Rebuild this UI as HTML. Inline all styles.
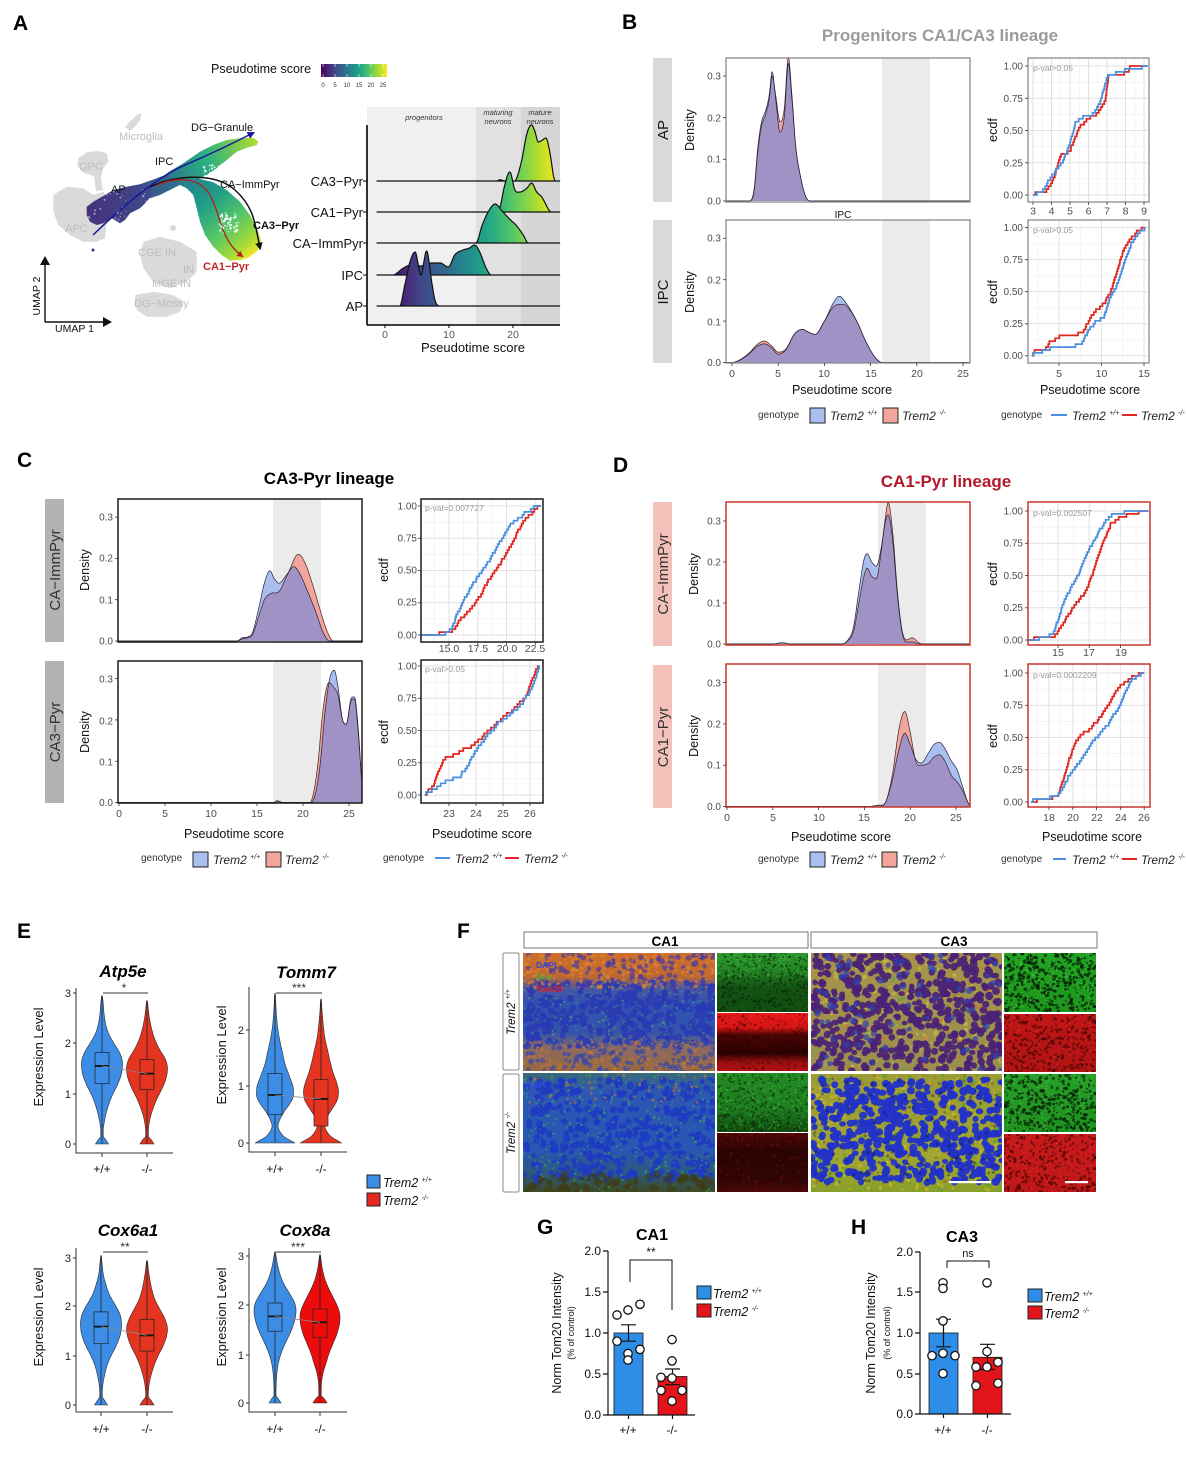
<!DOCTYPE html>
<html><head><meta charset="utf-8"><title>Figure</title>
<style>
html,body{margin:0;padding:0;background:#fff;width:1186px;height:1458px;overflow:hidden}
svg{display:block}
text{font-family:"Liberation Sans",Arial,sans-serif}
</style></head><body>
<svg id="fig" xmlns="http://www.w3.org/2000/svg" width="1186" height="1458" viewBox="0 0 1186 1458">
<defs>
<linearGradient id="virR" gradientUnits="userSpaceOnUse" x1="385" y1="0" x2="558" y2="0">
<stop offset="0" stop-color="#440154"/><stop offset="0.1" stop-color="#482475"/><stop offset="0.2" stop-color="#414487"/><stop offset="0.3" stop-color="#355f8d"/><stop offset="0.4" stop-color="#2a788e"/><stop offset="0.5" stop-color="#21918c"/><stop offset="0.6" stop-color="#22a884"/><stop offset="0.7" stop-color="#44bf70"/><stop offset="0.8" stop-color="#7ad151"/><stop offset="0.9" stop-color="#bddf26"/><stop offset="1" stop-color="#fde725"/>
</linearGradient>
<linearGradient id="virC" x1="0" y1="0" x2="1" y2="0">
<stop offset="0" stop-color="#440154"/><stop offset="0.1" stop-color="#482475"/><stop offset="0.2" stop-color="#414487"/><stop offset="0.3" stop-color="#355f8d"/><stop offset="0.4" stop-color="#2a788e"/><stop offset="0.5" stop-color="#21918c"/><stop offset="0.6" stop-color="#22a884"/><stop offset="0.7" stop-color="#44bf70"/><stop offset="0.8" stop-color="#7ad151"/><stop offset="0.9" stop-color="#bddf26"/><stop offset="1" stop-color="#fde725"/>
</linearGradient>
<linearGradient id="gAP" gradientUnits="userSpaceOnUse" x1="86" y1="0" x2="152" y2="0"><stop offset="0" stop-color="#46307c"/><stop offset="1" stop-color="#3e4b8a"/></linearGradient>
<linearGradient id="gBand" gradientUnits="userSpaceOnUse" x1="140" y1="0" x2="186" y2="0"><stop offset="0" stop-color="#3b528b"/><stop offset="1" stop-color="#2a788e"/></linearGradient>
<linearGradient id="gDG" gradientUnits="userSpaceOnUse" x1="167" y1="178" x2="258" y2="140"><stop offset="0" stop-color="#2a788e"/><stop offset="0.45" stop-color="#2bb07f"/><stop offset="1" stop-color="#b2dd2d"/></linearGradient>
<linearGradient id="gCA" gradientUnits="userSpaceOnUse" x1="185" y1="182" x2="252" y2="258"><stop offset="0" stop-color="#26828e"/><stop offset="0.3" stop-color="#1f9e89"/><stop offset="0.6" stop-color="#54c568"/><stop offset="0.85" stop-color="#a5db36"/><stop offset="1" stop-color="#fde725"/></linearGradient>
<marker id="mB" viewBox="0 0 10 10" refX="7" refY="5" markerWidth="5" markerHeight="5" orient="auto"><path d="M0,0L10,5L0,10z" fill="#1a1a9a"/></marker>
<marker id="mK" viewBox="0 0 10 10" refX="7" refY="5" markerWidth="5" markerHeight="5" orient="auto"><path d="M0,0L10,5L0,10z" fill="#111"/></marker>
<marker id="mR" viewBox="0 0 10 10" refX="7" refY="5" markerWidth="5" markerHeight="5" orient="auto"><path d="M0,0L10,5L0,10z" fill="#b22222"/></marker>
</defs>

<g id="L0">
<rect x="367" y="107" width="109" height="218" fill="#f0f0f0"/>
<rect x="476" y="107" width="45" height="218" fill="#e1e1e1"/>
<rect x="521" y="107" width="39" height="218" fill="#d6d6d6"/>
<path d="M125,126.7 L131.7,120 L136.7,115 L141.7,113.3 L140,120 L135,126.7 L130,131 Z" fill="#dadada"/>
<path d="M78.3,158.3 L86.7,152.3 L98.3,151 L106.7,153.3 L108.3,161.7 L103.3,168.3 L101,178 L103,190 L96,191 L94,176 L90,175 L81.7,171.7 L77.3,165 Z" fill="#dadada"/>
<path d="M53.3,195 L66.7,186.7 L83.3,188.3 L93.3,195 L103.3,191.7 L111.7,205 L106.7,221.7 L105,238.3 L96.7,241.7 L83.3,241.7 L70,235 L58.3,225 L53.3,211.7 Z" fill="#dadada"/>
<path d="M143.3,241.7 L160,236.7 L180,241.7 L196.7,251.7 L196.7,271.7 L186.7,281.7 L170,288.3 L153.3,281.7 L143.3,268.3 L140,255 Z" fill="#dadada"/>
<circle cx="173" cy="228" r="3" fill="#dadada"/>
<path d="M135,295 L153.3,291.7 L173.3,295 L183.3,301.7 L180,311.7 L166.7,316.7 L146.7,316.7 L136.7,310 Z" fill="#dadada"/>
<rect x="653" y="58" width="19" height="144" fill="#d9d9d9"/>
<rect x="653" y="220" width="19" height="143" fill="#d9d9d9"/>
<rect x="882" y="58" width="48" height="144" fill="#ebebeb"/>
<rect x="882" y="220" width="48" height="143" fill="#ebebeb"/>
<rect x="45" y="499" width="19" height="143" fill="#b3b3b3"/>
<rect x="45" y="661" width="19" height="142" fill="#b3b3b3"/>
<rect x="273" y="499" width="48" height="143" fill="#ebebeb"/>
<rect x="273" y="661" width="48" height="142" fill="#ebebeb"/>
<rect x="653" y="502" width="19" height="144" fill="#f4c1ba"/>
<rect x="653" y="665" width="19" height="143" fill="#f4c1ba"/>
<rect x="878" y="502" width="48" height="143" fill="#ebebeb"/>
<rect x="878" y="664" width="48" height="143" fill="#ebebeb"/>
</g>

<g id="L1">
<path d="M140,184.3 L156.7,178.3 L170,173.3 L180,169 L186,176 L183.3,183.3 L173.3,188.3 L160,195 L150,198.3 L146.7,195 Z" fill="url(#gBand)"/>
<path d="M166.7,173.3 L183.3,163.3 L200,151.7 L213.3,145 L226.7,140 L240,138.3 L253.3,137.7 L258.3,141.7 L256.7,145 L246.7,147.7 L236.7,151.7 L226.7,160 L216.7,168.3 L206.7,175 L196.7,180 L183.3,182.3 L173.3,180 Z" fill="url(#gDG)"/>
<path d="M180,180 L196.7,178.3 L213.3,182.3 L226.7,190 L240,201.7 L250,215 L258.3,231.7 L261.7,243.3 L256.7,251.7 L248.3,257.7 L240,260 L230,260.7 L221.7,255 L213.3,246.7 L205,235 L200,221.7 L196.7,208.3 L193.3,195 L186.7,188.3 L180,185 Z" fill="url(#gCA)"/>
<path d="M86.7,206.7 L93.3,201.7 L105,195 L113.3,190 L126.7,186.7 L140,184.3 L151.7,186.7 L151.7,195 L146.7,201.7 L140,208.3 L130,213.3 L125,220 L120,223.3 L111.7,218.3 L103.3,223.3 L96.7,225 L90,221.7 L86.7,215 Z" fill="url(#gAP)"/>
<circle cx="93" cy="250" r="1.5" fill="#46307c"/>
<path d="M93,235 Q150,180 185,165 T253,133" fill="none" stroke="#1a1a9a" stroke-width="1.5" marker-end="url(#mB)"/>
<path d="M150,187 C175,175 215,172 235,190 S255,225 260,248" fill="none" stroke="#111" stroke-width="1.5" marker-end="url(#mK)"/>
<path d="M157,185 C180,176 200,178 210,195 S220,240 242,256" fill="none" stroke="#b22222" stroke-width="1.3" marker-end="url(#mR)"/>
<line x1="45" y1="322" x2="45" y2="264" stroke="#111" stroke-width="1.4"/>
<line x1="45" y1="322" x2="104" y2="322" stroke="#111" stroke-width="1.4"/>
<polygon points="40,265 50,265 45,256" fill="#111"/>
<polygon points="103,317 103,327 112,322" fill="#111"/>
<rect x="321" y="64" width="66" height="13" fill="url(#virC)"/>
</g>

<g id="L2">
<line x1="367" y1="125" x2="367" y2="325" stroke="#000" stroke-width="1.6"/>
<line x1="367" y1="325" x2="560" y2="325" stroke="#000" stroke-width="1.6"/>
<rect x="726" y="58" width="244" height="144" fill="none" stroke="#8c8c8c" stroke-width="1.3"/>
<rect x="726" y="220" width="244" height="143" fill="none" stroke="#8c8c8c" stroke-width="1.3"/>
<rect x="1028" y="58" width="121" height="144" fill="none" stroke="#8c8c8c" stroke-width="1.3"/>
<rect x="1028" y="220" width="121" height="143" fill="none" stroke="#8c8c8c" stroke-width="1.3"/>
<rect x="118" y="499" width="244" height="143" fill="none" stroke="#1a1a1a" stroke-width="1.5"/>
<rect x="118" y="661" width="244" height="142" fill="none" stroke="#1a1a1a" stroke-width="1.5"/>
<rect x="421" y="499" width="122" height="143" fill="none" stroke="#1a1a1a" stroke-width="1.5"/>
<rect x="421" y="660" width="122" height="143" fill="none" stroke="#1a1a1a" stroke-width="1.5"/>
<rect x="726" y="502" width="244" height="143" fill="none" stroke="#c8372d" stroke-width="1.5"/>
<rect x="726" y="664" width="244" height="143" fill="none" stroke="#c8372d" stroke-width="1.5"/>
<rect x="1028" y="502" width="122" height="143" fill="none" stroke="#c8372d" stroke-width="1.5"/>
<rect x="1028" y="664" width="122" height="143" fill="none" stroke="#c8372d" stroke-width="1.5"/>

<g stroke="#333" stroke-width="1" fill="none">
<path d="M76,988 V1153 H173"/><path d="M249,987 V1152 H347"/>
<path d="M76,1248 V1412 H173"/><path d="M249,1248 V1412 H347"/>
<path d="M73,993 H76 M73,1043 H76 M73,1094 H76 M73,1144 H76 M102,1153 V1157 M147,1153 V1157"/>
<path d="M246,1030 H249 M246,1086 H249 M246,1143 H249 M275,1152 V1156 M321,1152 V1156"/>
<path d="M73,1258 H76 M73,1306 H76 M73,1356 H76 M73,1405 H76 M101,1412 V1416 M147,1412 V1416"/>
<path d="M246,1256 H249 M246,1305 H249 M246,1355 H249 M246,1403 H249 M275,1412 V1416 M320,1412 V1416"/>
<path d="M103,993 H148 M276,993 H322 M103,1252 H148 M275,1252 H321"/>
</g>

<rect x="524" y="932" width="284" height="16" fill="#fff" stroke="#777" stroke-width="1"/>
<rect x="811" y="932" width="286" height="16" fill="#fff" stroke="#777" stroke-width="1"/>
<rect x="503" y="953" width="16" height="117" rx="1.5" fill="#fff" stroke="#888" stroke-width="1"/>
<rect x="503" y="1074" width="16" height="118" rx="1.5" fill="#fff" stroke="#888" stroke-width="1"/>

<rect x="614" y="1333" width="29" height="82" fill="#2e8de6" stroke="#1a1a1a" stroke-width="0.8"/>
<rect x="658" y="1376.5" width="29" height="38.5" fill="#e3141a" stroke="#1a1a1a" stroke-width="0.8"/>
<g stroke="#111" stroke-width="1.2" fill="none">
<path d="M628.5,1324.8 V1341.2 M621,1324.8 H636 M621,1341.2 H636"/>
<path d="M672.5,1369 V1384.7 M665,1369 H680 M665,1384.7 H680"/>
<path d="M608,1251 V1415 H695 M603,1251 H608 M603,1292 H608 M603,1333 H608 M603,1374 H608 M603,1415 H608 M628.5,1415 V1419 M672.5,1415 V1419"/>
<path d="M630,1282 V1260 H672 V1310" stroke-width="1"/>
</g>
<g fill="#fff" stroke="#111" stroke-width="1.3">
<circle cx="617" cy="1315" r="4.2"/><circle cx="628" cy="1310" r="4.2"/><circle cx="640" cy="1304.3" r="4.2"/><circle cx="617" cy="1341.2" r="4.2"/><circle cx="640" cy="1349.4" r="4.2"/><circle cx="628" cy="1353.5" r="4.2"/><circle cx="628" cy="1360" r="4.2"/>
<circle cx="672" cy="1339.6" r="4.2"/><circle cx="672" cy="1360.9" r="4.2"/><circle cx="661" cy="1377.3" r="4.2"/><circle cx="672" cy="1378.1" r="4.2"/><circle cx="661" cy="1390.4" r="4.2"/><circle cx="682" cy="1390.4" r="4.2"/><circle cx="672" cy="1401" r="4.2"/>
</g>
<rect x="929" y="1333" width="29" height="81" fill="#2e8de6" stroke="#1a1a1a" stroke-width="0.8"/>
<rect x="973" y="1357.3" width="29" height="56.7" fill="#e3141a" stroke="#1a1a1a" stroke-width="0.8"/>
<g stroke="#111" stroke-width="1.2" fill="none">
<path d="M943.5,1319.2 V1346.8 M936,1319.2 H951 M936,1346.8 H951"/>
<path d="M987.5,1344.3 V1369.5 M980,1344.3 H995 M980,1369.5 H995"/>
<path d="M920,1252 V1414 H1011 M915,1252 H920 M915,1292 H920 M915,1333 H920 M915,1374 H920 M915,1414 H920 M943.5,1414 V1418 M987.5,1414 V1418"/>
<path d="M947,1268 V1261 H989 V1268" stroke-width="1"/>
</g>
<g fill="#fff" stroke="#111" stroke-width="1.3">
<circle cx="943" cy="1282.8" r="4.2"/><circle cx="943" cy="1288.4" r="4.2"/><circle cx="943" cy="1320.9" r="4.2"/><circle cx="932" cy="1355.7" r="4.2"/><circle cx="943" cy="1353.3" r="4.2"/><circle cx="955" cy="1355.7" r="4.2"/><circle cx="943" cy="1373.5" r="4.2"/>
<circle cx="987" cy="1282.8" r="4.2"/><circle cx="987" cy="1351.6" r="4.2"/><circle cx="976" cy="1367" r="4.2"/><circle cx="987" cy="1367" r="4.2"/><circle cx="998" cy="1362.2" r="4.2"/><circle cx="976" cy="1385.7" r="4.2"/><circle cx="998" cy="1383.2" r="4.2"/>
</g>
</g>

<g id="TXT">
<g font-size="21" font-weight="bold" fill="#000">
<text x="13" y="30">A</text><text x="622" y="29">B</text><text x="17" y="467">C</text><text x="613" y="472">D</text>
<text x="17" y="938">E</text><text x="457" y="938">F</text><text x="537" y="1234">G</text><text x="851" y="1234">H</text>
</g>

<text x="211" y="73" font-size="12.5" fill="#111">Pseudotime score</text>
<g font-size="6" fill="#333" text-anchor="middle">
<text x="323" y="87">0</text><text x="335" y="87">5</text><text x="347" y="87">10</text><text x="359" y="87">15</text><text x="371" y="87">20</text><text x="383" y="87">25</text>
</g>
<g font-size="11" fill="#bdbdbd">
<text x="119" y="140">Microglia</text><text x="79" y="170">OPC</text><text x="65" y="232">APC</text>
<text x="138" y="256">CGE IN</text><text x="183" y="273">IN</text><text x="152" y="287">MGE IN</text><text x="134" y="307">DG&#8722;Mossy</text>
</g>
<g font-size="11" fill="#111">
<text x="191" y="131">DG&#8722;Granule</text><text x="155" y="165">IPC</text><text x="111" y="193">AP</text><text x="220" y="188">CA&#8722;ImmPyr</text>
<text x="253" y="229" font-weight="bold">CA3&#8722;Pyr</text>
</g>
<text x="203" y="270" font-size="11" font-weight="bold" fill="#c0272d">CA1&#8722;Pyr</text>
<text x="55" y="332" font-size="10.5" fill="#111">UMAP 1</text>
<text transform="translate(40,296) rotate(-90)" font-size="10.5" fill="#111" text-anchor="middle">UMAP 2</text>
<g font-size="13" fill="#111" text-anchor="end">
<text x="363" y="186">CA3&#8722;Pyr</text><text x="363" y="217">CA1&#8722;Pyr</text><text x="363" y="248">CA&#8722;ImmPyr</text><text x="363" y="280">IPC</text><text x="363" y="311">AP</text>
</g>
<g font-size="7.5" font-style="italic" fill="#333" text-anchor="middle">
<text x="424" y="120">progenitors</text><text x="498" y="115">maturing</text><text x="498" y="124">neurons</text><text x="540" y="115">mature</text><text x="540" y="124">neurons</text>
</g>
<g font-size="10.5" fill="#555" text-anchor="middle">
<text x="385" y="338">0</text><text x="449" y="338">10</text><text x="513" y="338">20</text>
</g>
<text x="473" y="352" font-size="13" fill="#111" text-anchor="middle">Pseudotime score</text>

<text x="940" y="41" font-size="17" font-weight="bold" fill="#9a9a9a" text-anchor="middle">Progenitors CA1/CA3 lineage</text>
<g font-size="15" fill="#1a1a1a" text-anchor="middle">
<text transform="translate(668,130) rotate(-90)">AP</text>
<text transform="translate(668,292) rotate(-90)">IPC</text>
</g>
<g font-size="12.5" fill="#111" text-anchor="middle">
<text transform="translate(694,130) rotate(-90)">Density</text>
<text transform="translate(694,292) rotate(-90)">Density</text>
<text transform="translate(997,130) rotate(-90)">ecdf</text>
<text transform="translate(997,292) rotate(-90)">ecdf</text>
<text x="842" y="394">Pseudotime score</text>
<text x="1090" y="394">Pseudotime score</text>
</g>
<text x="843" y="218" font-size="10" fill="#111" text-anchor="middle">IPC</text>
<g font-size="10" fill="#4d4d4d" text-anchor="end">
<text x="721" y="79.5">0.3</text><text x="721" y="121.5">0.2</text><text x="721" y="162.5">0.1</text><text x="721" y="204.5">0.0</text>
<text x="721" y="241.5">0.3</text><text x="721" y="283.5">0.2</text><text x="721" y="325.5">0.1</text><text x="721" y="366">0.0</text>
<text x="1023" y="69.5">1.00</text><text x="1023" y="101.8">0.75</text><text x="1023" y="134">0.50</text><text x="1023" y="166.3">0.25</text><text x="1023" y="198.5">0.00</text>
<text x="1023" y="231">1.00</text><text x="1023" y="263">0.75</text><text x="1023" y="295">0.50</text><text x="1023" y="327">0.25</text><text x="1023" y="359">0.00</text>
</g>
<g font-size="10.5" fill="#4d4d4d" text-anchor="middle">
<text x="732" y="377">0</text><text x="778" y="377">5</text><text x="824" y="377">10</text><text x="871" y="377">15</text><text x="917" y="377">20</text><text x="963" y="377">25</text>
<text x="1033" y="214.5">3</text><text x="1051.5" y="214.5">4</text><text x="1070" y="214.5">5</text><text x="1088.5" y="214.5">6</text><text x="1107" y="214.5">7</text><text x="1125.5" y="214.5">8</text><text x="1144" y="214.5">9</text>
<text x="1059" y="377">5</text><text x="1101.5" y="377">10</text><text x="1144" y="377">15</text>
</g>
<g font-size="8.5" fill="#9a9a9a">
<text x="1033" y="71">p-val&gt;0.05</text><text x="1033" y="233">p-val&gt;0.05</text>
</g>
<text x="758" y="418" font-size="10" fill="#333">genotype</text>
<rect x="810" y="408" width="15" height="15" fill="#aabff0" stroke="#222" stroke-width="1"/>
<text x="830" y="420" font-size="12" font-style="italic" fill="#222">Trem2 <tspan font-size="7" dy="-5">+/+</tspan></text>
<rect x="883" y="408" width="15" height="15" fill="#f2a59b" stroke="#222" stroke-width="1"/>
<text x="902" y="420" font-size="12" font-style="italic" fill="#222">Trem2 <tspan font-size="7" dy="-5">-/-</tspan></text>
<text x="1001" y="418" font-size="10" fill="#333">genotype</text>
<line x1="1051" y1="415" x2="1067" y2="415" stroke="#4a8fe0" stroke-width="2"/>
<text x="1072" y="420" font-size="12" font-style="italic" fill="#222">Trem2 <tspan font-size="7" dy="-5">+/+</tspan></text>
<line x1="1122" y1="415" x2="1137" y2="415" stroke="#e0261e" stroke-width="2"/>
<text x="1141" y="420" font-size="12" font-style="italic" fill="#222">Trem2 <tspan font-size="7" dy="-5">-/-</tspan></text>

<text x="329" y="484" font-size="17" font-weight="bold" fill="#000" text-anchor="middle">CA3-Pyr lineage</text>
<g font-size="15" fill="#333" text-anchor="middle">
<text transform="translate(60,570) rotate(-90)">CA&#8722;ImmPyr</text>
<text transform="translate(60,732) rotate(-90)">CA3&#8722;Pyr</text>
</g>
<g font-size="12.5" fill="#111" text-anchor="middle">
<text transform="translate(89,570) rotate(-90)">Density</text>
<text transform="translate(89,732) rotate(-90)">Density</text>
<text transform="translate(388,570) rotate(-90)">ecdf</text>
<text transform="translate(388,732) rotate(-90)">ecdf</text>
<text x="234" y="838">Pseudotime score</text>
<text x="482" y="838">Pseudotime score</text>
</g>
<g font-size="10" fill="#4d4d4d" text-anchor="end">
<text x="113" y="520.5">0.3</text><text x="113" y="561.5">0.2</text><text x="113" y="603.5">0.1</text><text x="113" y="644.5">0.0</text>
<text x="113" y="682.5">0.3</text><text x="113" y="724.5">0.2</text><text x="113" y="765.5">0.1</text><text x="113" y="806">0.0</text>
<text x="417" y="509.5">1.00</text><text x="417" y="541.5">0.75</text><text x="417" y="573.5">0.50</text><text x="417" y="605.5">0.25</text><text x="417" y="638.5">0.00</text>
<text x="417" y="669.5">1.00</text><text x="417" y="701.5">0.75</text><text x="417" y="734">0.50</text><text x="417" y="766">0.25</text><text x="417" y="798.5">0.00</text>
</g>
<g font-size="10.5" fill="#4d4d4d" text-anchor="middle">
<text x="119" y="817">0</text><text x="165" y="817">5</text><text x="211" y="817">10</text><text x="257" y="817">15</text><text x="303" y="817">20</text><text x="349" y="817">25</text>
<text x="449" y="652">15.0</text><text x="478" y="652">17.5</text><text x="507" y="652">20.0</text><text x="535" y="652">22.5</text>
<text x="449" y="817">23</text><text x="476" y="817">24</text><text x="503" y="817">25</text><text x="530" y="817">26</text>
</g>
<g font-size="8.5" fill="#9a9a9a">
<text x="425" y="511">p-val=0.007727</text><text x="425" y="672">p-val&gt;0.05</text>
</g>
<text x="141" y="861" font-size="10" fill="#333">genotype</text>
<rect x="193" y="852" width="15" height="15" fill="#aabff0" stroke="#222" stroke-width="1"/>
<text x="213" y="864" font-size="12" font-style="italic" fill="#222">Trem2 <tspan font-size="7" dy="-5">+/+</tspan></text>
<rect x="266" y="852" width="15" height="15" fill="#f2a59b" stroke="#222" stroke-width="1"/>
<text x="285" y="864" font-size="12" font-style="italic" fill="#222">Trem2 <tspan font-size="7" dy="-5">-/-</tspan></text>
<text x="383" y="861" font-size="10" fill="#333">genotype</text>
<line x1="435" y1="858" x2="450" y2="858" stroke="#4a8fe0" stroke-width="2"/>
<text x="455" y="863" font-size="12" font-style="italic" fill="#222">Trem2 <tspan font-size="7" dy="-5">+/+</tspan></text>
<line x1="505" y1="858" x2="519" y2="858" stroke="#e0261e" stroke-width="2"/>
<text x="524" y="863" font-size="12" font-style="italic" fill="#222">Trem2 <tspan font-size="7" dy="-5">-/-</tspan></text>

<text x="946" y="487" font-size="17" font-weight="bold" fill="#b2182b" text-anchor="middle">CA1-Pyr lineage</text>
<g font-size="15" fill="#333" text-anchor="middle">
<text transform="translate(668,574) rotate(-90)">CA&#8722;ImmPyr</text>
<text transform="translate(668,737) rotate(-90)">CA1&#8722;Pyr</text>
</g>
<g font-size="12.5" fill="#111" text-anchor="middle">
<text transform="translate(698,574) rotate(-90)">Density</text>
<text transform="translate(698,736) rotate(-90)">Density</text>
<text transform="translate(997,574) rotate(-90)">ecdf</text>
<text transform="translate(997,736) rotate(-90)">ecdf</text>
<text x="841" y="841">Pseudotime score</text>
<text x="1092" y="841">Pseudotime score</text>
</g>
<g font-size="10" fill="#4d4d4d" text-anchor="end">
<text x="721" y="524.5">0.3</text><text x="721" y="565.5">0.2</text><text x="721" y="606.5">0.1</text><text x="721" y="647.5">0.0</text>
<text x="721" y="686.5">0.3</text><text x="721" y="727.5">0.2</text><text x="721" y="768.5">0.1</text><text x="721" y="810">0.0</text>
<text x="1023" y="514.5">1.00</text><text x="1023" y="546.5">0.75</text><text x="1023" y="579">0.50</text><text x="1023" y="611">0.25</text><text x="1023" y="643.5">0.00</text>
<text x="1023" y="676.5">1.00</text><text x="1023" y="708.5">0.75</text><text x="1023" y="741">0.50</text><text x="1023" y="773">0.25</text><text x="1023" y="805.5">0.00</text>
</g>
<g font-size="10.5" fill="#4d4d4d" text-anchor="middle">
<text x="727" y="821">0</text><text x="773" y="821">5</text><text x="819" y="821">10</text><text x="864" y="821">15</text><text x="910" y="821">20</text><text x="956" y="821">25</text>
<text x="1058" y="656">15</text><text x="1089" y="656">17</text><text x="1121" y="656">19</text>
<text x="1049" y="821">18</text><text x="1073" y="821">20</text><text x="1097" y="821">22</text><text x="1121" y="821">24</text><text x="1144" y="821">26</text>
</g>
<g font-size="8.5" fill="#9a9a9a">
<text x="1033" y="516">p-val=0.002507</text><text x="1033" y="678">p-val=0.0002209</text>
</g>
<text x="758" y="862" font-size="10" fill="#333">genotype</text>
<rect x="810" y="852" width="15" height="15" fill="#aabff0" stroke="#222" stroke-width="1"/>
<text x="830" y="864" font-size="12" font-style="italic" fill="#222">Trem2 <tspan font-size="7" dy="-5">+/+</tspan></text>
<rect x="882" y="852" width="15" height="15" fill="#f2a59b" stroke="#222" stroke-width="1"/>
<text x="902" y="864" font-size="12" font-style="italic" fill="#222">Trem2 <tspan font-size="7" dy="-5">-/-</tspan></text>
<text x="1001" y="862" font-size="10" fill="#333">genotype</text>
<line x1="1053" y1="859" x2="1066" y2="859" stroke="#4a8fe0" stroke-width="2"/>
<text x="1072" y="864" font-size="12" font-style="italic" fill="#222">Trem2 <tspan font-size="7" dy="-5">+/+</tspan></text>
<line x1="1122" y1="859" x2="1137" y2="859" stroke="#e0261e" stroke-width="2"/>
<text x="1141" y="864" font-size="12" font-style="italic" fill="#222">Trem2 <tspan font-size="7" dy="-5">-/-</tspan></text>

<g font-size="17" font-weight="bold" font-style="italic" fill="#000" text-anchor="middle">
<text x="123" y="977">Atp5e</text><text x="306" y="978">Tomm7</text><text x="128" y="1236">Cox6a1</text><text x="305" y="1236">Cox8a</text>
</g>
<g font-size="11" fill="#222" text-anchor="end">
<text x="71" y="997">3</text><text x="71" y="1047">2</text><text x="71" y="1098">1</text><text x="71" y="1148">0</text>
<text x="244" y="1034">2</text><text x="244" y="1090">1</text><text x="244" y="1147">0</text>
<text x="71" y="1262">3</text><text x="71" y="1310">2</text><text x="71" y="1360">1</text><text x="71" y="1409">0</text>
<text x="244" y="1260">3</text><text x="244" y="1309">2</text><text x="244" y="1359">1</text><text x="244" y="1407">0</text>
</g>
<g font-size="13" fill="#111" text-anchor="middle">
<text transform="translate(43,1057) rotate(-90)">Expression Level</text>
<text transform="translate(226,1055) rotate(-90)">Expression Level</text>
<text transform="translate(43,1317) rotate(-90)">Expression Level</text>
<text transform="translate(226,1317) rotate(-90)">Expression Level</text>
</g>
<g font-size="12" fill="#111" text-anchor="middle">
<text x="102" y="1173">+/+</text><text x="147" y="1173">-/-</text>
<text x="275" y="1173">+/+</text><text x="321" y="1173">-/-</text>
<text x="101" y="1433">+/+</text><text x="147" y="1433">-/-</text>
<text x="275" y="1433">+/+</text><text x="320" y="1433">-/-</text>
</g>
<g font-size="12" fill="#333" text-anchor="middle">
<text x="124" y="992">*</text><text x="299" y="992">***</text><text x="125" y="1251">**</text><text x="298" y="1251">***</text>
</g>
<rect x="367" y="1175" width="13" height="13" fill="#3c8de5" stroke="#222" stroke-width="1"/>
<text x="383" y="1187" font-size="12.5" font-style="italic" fill="#111">Trem2 <tspan font-size="7" dy="-5">+/+</tspan></text>
<rect x="367" y="1193" width="13" height="13" fill="#e32a1e" stroke="#222" stroke-width="1"/>
<text x="383" y="1205" font-size="12.5" font-style="italic" fill="#111">Trem2 <tspan font-size="7" dy="-5">-/-</tspan></text>

<text x="665" y="946" font-size="13.5" font-weight="bold" fill="#000" text-anchor="middle">CA1</text>
<text x="954" y="946" font-size="13.5" font-weight="bold" fill="#000" text-anchor="middle">CA3</text>
<g font-size="11.5" font-style="italic" fill="#111" text-anchor="middle">
<text transform="translate(515,1012) rotate(-90)">Trem2 <tspan font-size="7" dy="-5">+/+</tspan></text>
<text transform="translate(515,1133) rotate(-90)">Trem2 <tspan font-size="7" dy="-5">-/-</tspan></text>
</g>

<text x="652" y="1240" font-size="16" font-weight="bold" fill="#000" text-anchor="middle">CA1</text>
<g font-size="12" fill="#111" text-anchor="end">
<text x="601" y="1255">2.0</text><text x="601" y="1296">1.5</text><text x="601" y="1337">1.0</text><text x="601" y="1378">0.5</text><text x="601" y="1419">0.0</text>
<text x="913" y="1256">2.0</text><text x="913" y="1296">1.5</text><text x="913" y="1337">1.0</text><text x="913" y="1378">0.5</text><text x="913" y="1418">0.0</text>
</g>
<text transform="translate(561,1333) rotate(-90)" font-size="12.5" fill="#111" text-anchor="middle">Norm Tom20 Intensity</text>
<text transform="translate(574,1333) rotate(-90)" font-size="9" fill="#111" text-anchor="middle">(% of control)</text>
<text x="651" y="1256" font-size="12" fill="#111" text-anchor="middle">**</text>
<g font-size="12" fill="#111" text-anchor="middle">
<text x="628" y="1434">+/+</text><text x="672" y="1434">-/-</text>
<text x="943" y="1434">+/+</text><text x="987" y="1434">-/-</text>
</g>
<rect x="697" y="1286" width="14" height="13" fill="#2e8de6" stroke="#222" stroke-width="1"/>
<text x="713" y="1298" font-size="12.5" font-style="italic" fill="#111">Trem2 <tspan font-size="7" dy="-5">+/+</tspan></text>
<rect x="697" y="1304" width="14" height="13" fill="#e3141a" stroke="#222" stroke-width="1"/>
<text x="713" y="1316" font-size="12.5" font-style="italic" fill="#111">Trem2 <tspan font-size="7" dy="-5">-/-</tspan></text>

<text x="962" y="1242" font-size="16" font-weight="bold" fill="#000" text-anchor="middle">CA3</text>
<text transform="translate(875,1333) rotate(-90)" font-size="12.5" fill="#111" text-anchor="middle">Norm Tom20 Intensity</text>
<text transform="translate(890,1333) rotate(-90)" font-size="9" fill="#111" text-anchor="middle">(% of control)</text>
<text x="968" y="1257" font-size="11" fill="#111" text-anchor="middle">ns</text>
<rect x="1028" y="1289" width="14" height="13" fill="#2e8de6" stroke="#222" stroke-width="1"/>
<text x="1044" y="1301" font-size="12.5" font-style="italic" fill="#111">Trem2 <tspan font-size="7" dy="-5">+/+</tspan></text>
<rect x="1028" y="1306" width="14" height="13" fill="#e3141a" stroke="#222" stroke-width="1"/>
<text x="1044" y="1318" font-size="12.5" font-style="italic" fill="#111">Trem2 <tspan font-size="7" dy="-5">-/-</tspan></text>
</g>

<g id="TOP">
<g font-size="8.5" font-weight="bold">
<text x="536" y="968" fill="#3048e0">DAPI</text>
<text x="536" y="980" fill="#40b040">Dcx</text>
<text x="536" y="992" fill="#e02020">Tom20</text>
<text x="526" y="1088" fill="#3048e0">DAPI</text>
</g>
</g>
</svg>

<script>
(function(){
var NS="http://www.w3.org/2000/svg";
var L0=document.getElementById('L0'),L1=document.getElementById('L1'),L2=document.getElementById('L2'),TOP=document.getElementById('TOP');
var DEFS=document.querySelector('defs');
function E(p,tag,a){var e=document.createElementNS(NS,tag);for(var k in a)e.setAttribute(k,a[k]);p.appendChild(e);return e;}
var seed=987654321;function rnd(){seed=(Math.imul(seed,1664525)+1013904223)>>>0;return seed/4294967296;}
function f1(v){return (+v).toFixed(1);}
function herm(p){
 var n=p.length,m=new Array(n),i;
 for(i=0;i<n;i++){
  if(i===0)m[i]=(p[1][1]-p[0][1])/(p[1][0]-p[0][0]);
  else if(i===n-1)m[i]=(p[n-1][1]-p[n-2][1])/(p[n-1][0]-p[n-2][0]);
  else{var d0=(p[i][1]-p[i-1][1])/(p[i][0]-p[i-1][0]),d1=(p[i+1][1]-p[i][1])/(p[i+1][0]-p[i][0]);m[i]=(d0*d1<=0)?0:(d0+d1)/2;}
 }
 return function(x){
  if(x<=p[0][0])return p[0][1];if(x>=p[n-1][0])return p[n-1][1];
  var j=0;while(j<n-2&&x>p[j+1][0])j++;
  var h=p[j+1][0]-p[j][0],t=(x-p[j][0])/h,t2=t*t,t3=t2*t;
  return (2*t3-3*t2+1)*p[j][1]+(t3-2*t2+t)*h*m[j]+(-2*t3+3*t2)*p[j+1][1]+(t3-t2)*h*m[j+1];
 };
}

function ridge(base,pts){
 var f=herm(pts),X=function(t){return 385+6.4*t;};
 var d='M'+f1(X(-1.25))+','+base;
 for(var t=-1.25;t<=27.3;t+=0.05){d+='L'+f1(X(t))+','+f1(base-Math.max(0,f(t)));}
 d+='L'+f1(X(27.3))+','+base+'Z';
 E(L1,'path',{d:d,fill:'url(#virR)',stroke:'#111','stroke-width':1.2,'stroke-linejoin':'round'});
}
ridge(181,[[-1.3,0],[17.4,0],[18,1.2],[18.6,0.3],[20.4,0.5],[21.3,19],[22.2,48],[22.9,56],[23.4,50],[23.95,39],[24.6,41],[25.15,43],[25.6,34],[26,19],[26.3,6],[26.6,0],[27.4,0]]);
ridge(212,[[-1.3,0],[17.6,0],[18.1,8],[18.6,24],[19.5,40],[20.3,22],[21.1,20],[22.2,24],[22.9,29],[23.7,20],[24.5,15],[25.1,8],[25.6,2],[26,0],[27.4,0]]);
ridge(243,[[-1.3,0],[14.2,0],[15.2,18],[16.2,32],[17.2,39],[18.3,32],[19.3,25],[20.6,17],[21.6,8],[22.4,0],[27.4,0]]);
ridge(275,[[-1.3,0],[1.2,0],[2.9,7],[4,10],[5.5,9],[7.3,12],[8.6,12],[9.9,8],[10.9,20],[12.2,25],[13.2,27],[14,30],[14.8,23],[15.8,7],[16.6,0],[27.4,0]]);
ridge(306,[[-1.3,0],[2.3,0],[3.1,21],[3.9,44],[4.7,54],[5.6,31],[6.5,55],[7.3,24],[7.8,6],[8.6,0],[27.4,0]]);
[181,212,243,275,306].forEach(function(y){E(L2,'line',{x1:363,x2:367,y1:y,y2:y,stroke:'#000','stroke-width':1});});
[385,449,513].forEach(function(x){E(L2,'line',{x1:x,x2:x,y1:325,y2:328,stroke:'#000','stroke-width':1});});
[0,5,10,15,20,25].forEach(function(v){var x=323+2.4*v;E(L1,'line',{x1:x,x2:x,y1:64,y2:67,stroke:'#fff','stroke-width':0.6});E(L1,'line',{x1:x,x2:x,y1:74,y2:77,stroke:'#fff','stroke-width':0.6});});
// UMAP speckles
var i;
for(i=0;i<45;i++){E(L1,'circle',{cx:f1(219+rnd()*20),cy:f1(213+rnd()*20),r:f1(0.5+rnd()*0.9),fill:'#fff','fill-opacity':0.85});}
for(i=0;i<25;i++){E(L1,'circle',{cx:f1(203+rnd()*22),cy:f1(163+rnd()*14),r:f1(0.5+rnd()*0.8),fill:'#fff','fill-opacity':0.8});}
for(i=0;i<30;i++){E(L1,'circle',{cx:f1(88+rnd()*60),cy:f1(190+rnd()*30),r:f1(0.5+rnd()*0.7),fill:'#fff','fill-opacity':0.5});}

function dens(o){
 var X=function(t){return o.a+o.k*t;},Y=function(d){return o.yb-o.ky*d;};
 var tmin=(o.x0-o.a)/o.k,tmax=(o.x1-o.a)/o.k;
 var fb=herm(o.b),fr=herm(o.r),ts=[];
 for(var t=tmin;t<tmax;t+=0.04)ts.push(t);ts.push(tmax);
 function area(f){var s='M'+f1(X(tmin))+','+f1(Y(0));ts.forEach(function(t){s+='L'+f1(X(t))+','+f1(Y(Math.max(0,f(t))));});s+='L'+f1(X(tmax))+','+f1(Y(0))+'Z';return s;}
 function line(f){var s='';ts.forEach(function(t,i){s+=(i?'L':'M')+f1(X(t))+','+f1(Y(Math.max(0,f(t))));});return s;}
 E(L1,'path',{d:area(fb),fill:'#aabff0'});
 E(L1,'path',{d:area(fr),fill:'#f2a59b'});
 E(L1,'path',{d:area(function(t){return Math.min(fb(t),fr(t));}),fill:'#a092c4'});
 E(L1,'path',{d:line(fr),fill:'none',stroke:'#3a2626','stroke-width':0.7});
 E(L1,'path',{d:line(fb),fill:'none',stroke:'#22223a','stroke-width':0.7});
 [0,0.1,0.2,0.3].forEach(function(v){var y=Y(v);E(L2,'line',{x1:o.x0-3,x2:o.x0,y1:f1(y),y2:f1(y),stroke:'#333','stroke-width':0.8});});
 if(o.xt)[0,5,10,15,20,25].forEach(function(v){var x=X(v);E(L2,'line',{x1:f1(x),x2:f1(x),y1:o.y1,y2:o.y1+3,stroke:'#333','stroke-width':0.8});});
}
dens({x0:726,x1:970,a:732,k:9.24,yb:201,ky:416.7,y1:202,
 b:[[-1,0],[1.9,0],[2.4,0.03],[2.8,0.13],[3.2,0.19],[3.6,0.215],[4.0,0.25],[4.35,0.31],[4.75,0.24],[5.2,0.165],[5.65,0.2],[6.1,0.33],[6.5,0.24],[6.9,0.13],[7.4,0.06],[7.9,0.015],[8.4,0],[26,0]],
 r:[[-1,0],[1.9,0],[2.4,0.025],[2.8,0.12],[3.2,0.18],[3.6,0.205],[4.0,0.24],[4.35,0.3],[4.75,0.25],[5.2,0.19],[5.65,0.22],[6.1,0.345],[6.5,0.25],[6.9,0.13],[7.4,0.06],[7.9,0.015],[8.4,0],[26,0]]});
dens({x0:726,x1:970,a:732,k:9.24,yb:362.5,ky:414,y1:363,xt:1,
 b:[[-1,0],[0,0],[0.8,0.005],[1.8,0.02],[2.8,0.04],[3.5,0.045],[4.3,0.035],[5,0.02],[5.8,0.03],[6.8,0.07],[7.6,0.08],[8.4,0.072],[9,0.068],[10,0.1],[11,0.145],[11.6,0.16],[12.3,0.145],[13.5,0.1],[14.5,0.05],[15.5,0.012],[16.3,0],[26,0]],
 r:[[-1,0],[0,0],[0.8,0.006],[1.8,0.022],[2.8,0.045],[3.5,0.052],[4.3,0.04],[5,0.025],[5.8,0.032],[6.8,0.07],[7.6,0.08],[8.4,0.072],[9,0.068],[10,0.1],[11,0.135],[11.6,0.14],[12.3,0.138],[13.5,0.1],[14.5,0.05],[15.5,0.012],[16.3,0],[26,0]]});
dens({x0:118,x1:362,a:119,k:9.2,yb:641,ky:413,y1:642,
 b:[[-1,0],[12.8,0],[13.4,0.008],[14,0.01],[14.5,0.02],[15.2,0.08],[15.8,0.14],[16.4,0.17],[16.9,0.15],[17.4,0.14],[18.2,0.16],[19,0.18],[19.6,0.165],[20.5,0.12],[21.4,0.07],[22.2,0.02],[22.9,0],[27,0]],
 r:[[-1,0],[12.8,0],[13.4,0.005],[14,0.008],[14.5,0.015],[15.2,0.06],[15.8,0.1],[16.5,0.115],[17.4,0.12],[18.3,0.16],[19.5,0.21],[20.2,0.19],[21,0.14],[21.8,0.08],[22.6,0.025],[23.3,0],[27,0]]});
dens({x0:118,x1:362,a:119,k:9.2,yb:802.5,ky:413,y1:803,xt:1,
 b:[[-1,0],[16.8,0],[17.2,0.004],[17.8,0],[20.6,0],[21.2,0.01],[21.8,0.08],[22.4,0.22],[22.9,0.3],[23.4,0.32],[23.8,0.28],[24.3,0.2],[24.7,0.19],[25.2,0.25],[25.6,0.255],[26,0.18],[26.4,0.05],[26.7,0],[27,0]],
 r:[[-1,0],[16.8,0],[17.2,0.004],[17.8,0],[20.4,0],[21,0.01],[21.6,0.09],[22.2,0.23],[22.8,0.29],[23.3,0.28],[23.8,0.26],[24.3,0.2],[24.7,0.19],[25.2,0.245],[25.6,0.25],[26,0.17],[26.4,0.05],[26.7,0],[27,0]]});
dens({x0:726,x1:970,a:727,k:9.16,yb:644,ky:410,y1:645,
 b:[[-1,0],[5,0],[6,0.003],[7,0],[12.5,0],[13.2,0.01],[13.8,0.04],[14.4,0.13],[15,0.21],[15.3,0.22],[15.8,0.2],[16.3,0.19],[16.8,0.23],[17.3,0.3],[17.6,0.315],[18.1,0.25],[18.6,0.12],[19.1,0.03],[19.6,0.005],[20.2,0.005],[21,0],[27,0]],
 r:[[-1,0],[5,0],[6,0.003],[7,0],[12.5,0],[13.2,0.008],[13.8,0.03],[14.4,0.1],[15,0.17],[15.3,0.185],[15.8,0.165],[16.3,0.16],[16.8,0.22],[17.3,0.31],[17.6,0.345],[18.1,0.27],[18.6,0.13],[19.1,0.035],[19.6,0.01],[20.2,0.015],[21,0.002],[21.5,0],[27,0]]});
dens({x0:726,x1:970,a:727,k:9.16,yb:806.5,ky:413,y1:807,xt:1,
 b:[[-1,0],[15,0],[16.5,0.003],[17.3,0.01],[18,0.06],[18.8,0.14],[19.4,0.177],[20,0.15],[20.6,0.115],[21.2,0.105],[22,0.13],[22.6,0.15],[23.2,0.155],[23.8,0.14],[24.5,0.11],[25.1,0.09],[25.7,0.05],[26.3,0.01],[26.6,0],[27,0]],
 r:[[-1,0],[15,0],[16.5,0.003],[17.3,0.01],[18,0.07],[18.8,0.19],[19.4,0.23],[20,0.18],[20.6,0.11],[21.2,0.1],[22,0.105],[22.6,0.12],[23.2,0.125],[23.8,0.11],[24.5,0.075],[25.1,0.06],[25.7,0.04],[26.3,0.01],[26.6,0],[27,0]]});

function inv(tg,F){
 for(var i=0;i<tg.length-1;i++){var ta=tg[i][0],Fa=tg[i][1],tb=tg[i+1][0],Fb=tg[i+1][1];
  if(F<=Fb&&Fb>Fa){return ta+(Math.max(F,Fa)-Fa)/(Fb-Fa)*(tb-ta);}}
 return tg[tg.length-1][0];
}
function steps(o,tg,col){
 var X=function(t){return o.a+o.k*(t-o.ta);},Y=function(F){return o.yb-o.ky*F;};
 var N=44,prev=tg[0][0],d='M'+f1(X(tg[0][0]))+','+f1(Y(0));
 for(var i=1;i<=N;i++){
  var lo=inv(tg,(i-1)/N),hi=inv(tg,i/N),t=inv(tg,(i-0.5)/N)+(rnd()-0.5)*0.8*(hi-lo);
  if(t<prev)t=prev;prev=t;
  d+='H'+f1(X(t))+'V'+f1(Y(i/N));
 }
 d+='H'+f1(X(tg[tg.length-1][0]));
 E(L1,'path',{d:d,fill:'none',stroke:col,'stroke-width':1.7});
}
function ecdf(o){
 var X=function(t){return o.a+o.k*(t-o.ta);},Y=function(F){return o.yb-o.ky*F;};
 var xt=o.xt,st=xt[1]-xt[0],minor=[];
 for(var v=xt[0]-st/2;v<=xt[xt.length-1]+st/2+1e-9;v+=st)minor.push(v);
 minor.forEach(function(v){var x=X(v);if(x>o.x0+1&&x<o.x1-1)E(L0,'line',{x1:f1(x),x2:f1(x),y1:o.y0,y2:o.y1,stroke:'#f1f1f1','stroke-width':0.7});});
 [0.125,0.375,0.625,0.875].forEach(function(F){E(L0,'line',{x1:o.x0,x2:o.x1,y1:f1(Y(F)),y2:f1(Y(F)),stroke:'#f1f1f1','stroke-width':0.7});});
 xt.forEach(function(v){var x=X(v);E(L0,'line',{x1:f1(x),x2:f1(x),y1:o.y0,y2:o.y1,stroke:'#e2e2e2','stroke-width':1});E(L2,'line',{x1:f1(x),x2:f1(x),y1:o.y1,y2:o.y1+3,stroke:'#333','stroke-width':0.8});});
 [0,0.25,0.5,0.75,1].forEach(function(F){E(L0,'line',{x1:o.x0,x2:o.x1,y1:f1(Y(F)),y2:f1(Y(F)),stroke:'#e2e2e2','stroke-width':1});E(L2,'line',{x1:o.x0-3,x2:o.x0,y1:f1(Y(F)),y2:f1(Y(F)),stroke:'#333','stroke-width':0.8});});
 steps(o,o.r,'#e0261e');
 steps(o,o.b,'#4a8fe0');
}
ecdf({x0:1028,x1:1149,y0:58,y1:202,a:1033,ta:3,k:18.5,yb:195,ky:129,xt:[3,4,5,6,7,8,9],
 b:[[3,0],[3.5,0.02],[3.8,0.1],[4.1,0.16],[4.6,0.25],[5,0.4],[5.3,0.56],[5.6,0.6],[6.2,0.62],[6.6,0.7],[6.9,0.85],[7.05,0.93],[7.5,0.95],[8,0.97],[8.8,0.98],[9.2,1.0]],
 r:[[3,0],[3.5,0.02],[3.9,0.06],[4.1,0.12],[4.5,0.3],[5,0.35],[5.5,0.52],[6,0.6],[6.5,0.63],[6.9,0.72],[7.1,0.94],[8,0.94],[8.3,0.99],[9.2,1]]});
ecdf({x0:1028,x1:1149,y0:220,y1:363,a:1059,ta:5,k:8.5,yb:355.8,ky:128.2,xt:[5,10,15],
 b:[[1.8,0],[2.7,0.03],[3.3,0.05],[5,0.06],[7.5,0.08],[8.5,0.2],[9.5,0.28],[10.3,0.3],[11,0.45],[11.8,0.55],[12.8,0.75],[13.5,0.87],[14.5,0.97],[15.2,1.0]],
 r:[[1.8,0],[2.1,0.03],[3.2,0.05],[4.2,0.12],[5,0.15],[5.3,0.16],[7.8,0.17],[8.3,0.25],[9.2,0.35],[10.2,0.4],[11,0.48],[11.8,0.65],[12.5,0.8],[13.3,0.9],[14.4,0.98],[15,1.0]]});
ecdf({x0:421,x1:543,y0:499,y1:642,a:449,ta:15,k:11.5,yb:635,ky:129,xt:[15,17.5,20,22.5],
 b:[[12.6,0],[14,0.01],[15,0.03],[15.3,0.06],[15.7,0.16],[16.3,0.27],[16.8,0.35],[17.5,0.45],[18.3,0.55],[19,0.65],[19.7,0.76],[20.4,0.86],[21,0.9],[21.6,0.94],[22.5,0.99],[23,1.0]],
 r:[[12.6,0],[13.5,0.015],[15,0.02],[15.5,0.06],[16,0.12],[16.8,0.2],[17.5,0.27],[18.3,0.4],[19,0.5],[19.8,0.6],[20.4,0.7],[21,0.8],[21.5,0.88],[22,0.93],[22.6,0.98],[23,1.0]]});
ecdf({x0:421,x1:543,y0:660,y1:803,a:449,ta:23,k:27,yb:795,ky:129,xt:[23,24,25,26],
 b:[[22.1,0],[22.3,0.02],[22.6,0.07],[23,0.12],[23.4,0.15],[23.7,0.22],[24,0.35],[24.4,0.45],[24.8,0.55],[25.2,0.62],[25.6,0.68],[26,0.8],[26.2,0.9],[26.35,1.0]],
 r:[[22.1,0],[22.4,0.06],[22.6,0.18],[22.8,0.27],[23.2,0.31],[23.6,0.36],[24,0.4],[24.5,0.5],[25,0.6],[25.5,0.68],[25.9,0.78],[26.1,0.9],[26.3,1.0]]});
ecdf({x0:1028,x1:1150,y0:502,y1:645,a:1058,ta:15,k:15.6,yb:640,ky:129,xt:[15,17,19],
 b:[[13.1,0],[14,0.02],[14.7,0.05],[15,0.15],[15.4,0.3],[15.9,0.42],[16.3,0.5],[16.8,0.65],[17.2,0.75],[17.7,0.85],[18.3,0.96],[19,0.98],[20,0.99],[20.8,1.0]],
 r:[[13.1,0],[14,0.02],[14.8,0.04],[15.2,0.1],[15.7,0.2],[16.3,0.3],[16.8,0.38],[17.2,0.5],[17.5,0.62],[17.9,0.75],[18.4,0.9],[18.9,0.95],[19.5,0.97],[20.8,1.0]]});
ecdf({x0:1028,x1:1150,y0:664,y1:807,a:1049,ta:18,k:11.9,yb:802,ky:129,xt:[18,20,22,24,26],
 b:[[16.5,0],[17,0.02],[18.5,0.03],[19,0.08],[19.5,0.17],[20,0.25],[20.5,0.3],[21,0.37],[21.5,0.45],[22.2,0.52],[23,0.6],[23.5,0.68],[24,0.75],[24.5,0.87],[25,0.95],[25.5,0.98],[26,1.0]],
 r:[[16.5,0],[17,0.02],[18.3,0.03],[18.8,0.06],[19.3,0.2],[19.7,0.33],[20.2,0.45],[20.6,0.5],[21.2,0.55],[21.8,0.6],[22.5,0.68],[23,0.75],[23.6,0.85],[24.2,0.92],[24.8,0.96],[25.5,0.99],[26,1.0]]});

function violin(cx,Y,prof,fill,box){
 var f=herm(prof),v0=prof[0][0],v1=prof[prof.length-1][0],R=[],Lp=[];
 for(var v=v0;v<=v1+1e-9;v+=0.02){var w=Math.max(0,f(v));R.push([cx+w,Y(v)]);Lp.push([cx-w,Y(v)]);}
 var d='M'+cx+','+f1(Y(v0));
 R.forEach(function(p){d+='L'+f1(p[0])+','+f1(p[1]);});
 d+='L'+cx+','+f1(Y(v1));
 Lp.reverse().forEach(function(p){d+='L'+f1(p[0])+','+f1(p[1]);});
 d+='Z';
 E(L1,'path',{d:d,fill:fill,stroke:'#2a2a2a','stroke-width':0.6});
 E(L1,'line',{x1:cx,x2:cx,y1:f1(Y(v0)),y2:f1(Y(v1-0.03)),stroke:'#222','stroke-width':0.8});
 E(L1,'rect',{x:cx-7,y:f1(Y(box[1])),width:14,height:f1(Y(box[0])-Y(box[1])),fill:fill,stroke:'#222','stroke-width':0.7});
 E(L1,'line',{x1:cx-7,x2:cx+7,y1:f1(Y(box[2])),y2:f1(Y(box[2])),stroke:'#111','stroke-width':1.8});
}
function vplot(Y,cb,cr,pb,pr,bb,br,colR){
 violin(cb,Y,pb,'#3c8de5',bb);
 violin(cr,Y,pr,colR,br);
 E(L1,'line',{x1:cb,x2:cr,y1:f1(Y(bb[2])),y2:f1(Y(br[2])),stroke:'#888','stroke-width':0.8});
}
vplot(function(v){return 1144-50.3*v;},102,147,
 [[0,6.5],[0.08,4],[0.16,1.2],[0.25,1.2],[0.4,2],[0.6,4],[0.8,7],[1.0,11],[1.2,16],[1.4,19.5],[1.6,20.5],[1.8,18],[2.0,12],[2.2,6.5],[2.4,3.5],[2.6,2],[2.8,1.2],[2.95,0.5]],
 [[0,7],[0.08,4.5],[0.16,1.3],[0.3,1.5],[0.5,3],[0.7,6],[0.9,10],[1.1,15],[1.3,19],[1.5,20.5],[1.7,18],[1.9,12],[2.1,7.5],[2.3,4.5],[2.5,2.5],[2.7,1.2],[2.85,0.5]],
 [1.2,1.82,1.55],[1.08,1.68,1.4],'#e5341f');
vplot(function(v){return 1143-56.5*v;},275,321,
 [[0,20],[0.04,16],[0.1,10],[0.2,5],[0.3,3],[0.4,4.5],[0.55,9],[0.7,15],[0.85,18.5],[1.0,18],[1.2,14],[1.4,10],[1.6,7.5],[1.8,5],[2.0,3],[2.2,1.8],[2.4,1],[2.65,0.4]],
 [[0,20.5],[0.04,17],[0.1,11],[0.2,6],[0.3,4],[0.45,6],[0.6,11],[0.75,16],[0.9,17.5],[1.05,16],[1.25,12],[1.45,9],[1.65,6.5],[1.85,4],[2.05,2.5],[2.3,1.2],[2.55,0.4]],
 [0.5,1.23,0.85],[0.3,1.12,0.78],'#e5341f');
vplot(function(v){return 1405-49*v;},101,147,
 [[0,6.5],[0.08,4],[0.18,1.2],[0.35,1.5],[0.55,3],[0.8,6],[1.0,10],[1.2,15],[1.45,19.5],[1.65,20.5],[1.85,19],[2.05,14],[2.25,8.5],[2.45,5],[2.65,2.5],[2.85,1.2],[3.05,0.4]],
 [[0,7],[0.08,4.5],[0.18,1.3],[0.4,2],[0.6,4],[0.8,7],[1.0,11],[1.2,16],[1.4,19.5],[1.55,20.5],[1.75,18],[1.95,13],[2.15,8],[2.35,5],[2.55,3],[2.75,1.5],[2.95,0.4]],
 [1.25,1.9,1.6],[1.1,1.75,1.42],'#e5341f');
vplot(function(v){return 1403-49.5*v;},275,320,
 [[0,6],[0.08,3.5],[0.16,1],[0.4,1.2],[0.7,2.5],[0.9,4.5],[1.1,8],[1.3,12.5],[1.5,17],[1.7,20],[1.85,21],[2.0,20],[2.2,15],[2.4,9],[2.6,5],[2.8,2.5],[3.05,0.4]],
 [[0,7],[0.08,4.5],[0.16,1.2],[0.4,1.5],[0.6,3],[0.8,6],[1.0,9],[1.2,13],[1.4,17],[1.6,19.5],[1.75,20],[1.9,18.5],[2.1,14],[2.3,9],[2.5,5],[2.7,2.5],[3.0,0.4]],
 [1.45,2.02,1.75],[1.32,1.9,1.63],'#ee0b0b');

var gid=0;
function img(x,y,w,h,stops,dots){
 var id='im'+(gid++);
 var lg=E(DEFS,'linearGradient',{id:id,x1:0,y1:0,x2:0,y2:1});
 stops.forEach(function(s){E(lg,'stop',{offset:s[0],'stop-color':s[1]});});
 var cp=E(DEFS,'clipPath',{id:'c'+id});E(cp,'rect',{x:x,y:y,width:w,height:h});
 var g=E(L1,'g',{'clip-path':'url(#c'+id+')'});
 E(g,'rect',{x:x,y:y,width:w,height:h,fill:'url(#'+id+')'});
 dots.forEach(function(dd){
  var n=dd[0],c=dd[1],r0=dd[2],r1=dd[3],op=dd[4],ya=dd.length>5?dd[5]:0,yb=dd.length>6?dd[6]:1;
  for(var i=0;i<n;i++){var r=r0+rnd()*(r1-r0),cx=x+rnd()*w,cy=y+h*ya+rnd()*h*(yb-ya);
   E(g,'ellipse',{cx:f1(cx),cy:f1(cy),rx:f1(r),ry:f1(r*(0.75+rnd()*0.4)),fill:c,'fill-opacity':op});}
 });
}
img(523,953,192,118,[[0,'#cf6e2a'],[0.2,'#c0682f'],[0.3,'#4a58a0'],[0.42,'#2f52b0'],[0.68,'#3454ac'],[0.8,'#8a6a62'],[1,'#9a6a3e']],
 [[380,'#2a3ab4',2.4,3.8,0.85,0.25,0.8],[120,'#4a3aa0',2,3.2,0.7,0,0.3],[120,'#3a48a8',2,3.2,0.7,0.75,1],[250,'#e08a30',0.8,2,0.6,0,0.3],[180,'#50b060',0.6,1.4,0.5,0.25,0.8],[150,'#d07a30',0.8,2,0.5,0.75,1]]);
img(717,953,91,59,[[0,'#2e9a2e'],[0.35,'#1f7a1f'],[0.6,'#135213'],[1,'#125012']],
 [[350,'#061806',0.6,1.4,0.5],[250,'#40b840',0.5,1.1,0.5,0,0.4]]);
img(717,1013,91,58,[[0,'#e81818'],[0.25,'#d41414'],[0.38,'#4a0404'],[0.7,'#2c0202'],[0.85,'#9a0e0e'],[1,'#b41212']],
 [[250,'#1a0000',0.6,1.4,0.35],[120,'#ff3030',0.5,1,0.35,0,0.3]]);
img(811,953,191,118,[[0,'#a89448'],[1,'#9a9050']],
 [[240,'#c8c040',1,2.2,0.7],[160,'#d07030',0.8,2,0.6],[120,'#50a050',0.8,2,0.5],[540,'#4a2276',2.8,4,0.92],[80,'#3040b0',2.5,3.5,0.7]]);
img(1004,953,92,59,[[0,'#22a322'],[1,'#1c961c']],
 [[420,'#041404',0.7,1.8,0.7],[150,'#50d050',0.5,1.1,0.5]]);
img(1004,1014,92,58,[[0,'#c01616'],[1,'#b01414']],
 [[330,'#300202',0.7,1.6,0.55],[120,'#ff3535',0.5,1,0.4]]);
img(523,1073,192,119,[[0,'#3a6a78'],[0.15,'#2c58b4'],[0.65,'#2a56b4'],[0.85,'#2c5a7a'],[1,'#3c4a28']],
 [[420,'#1e3ac2',2.4,3.8,0.85,0.05,0.9],[300,'#40b050',0.6,1.5,0.55],[60,'#c08030',0.8,2,0.5,0,0.25],[80,'#403a10',2,4,0.6,0.85,1]]);
img(717,1073,91,59,[[0,'#238a23'],[0.6,'#1e7e1e'],[1,'#0f4a0f']],
 [[350,'#061806',0.6,1.4,0.45],[250,'#40c040',0.5,1.1,0.5]]);
img(717,1133,91,59,[[0,'#4a0606'],[0.3,'#2a0303'],[0.8,'#300404'],[1,'#4a0808']],
 [[120,'#801010',0.6,1.4,0.4],[80,'#a01515',0.5,1,0.4,0,0.25]]);
img(811,1074,191,118,[[0,'#9c9c34'],[0.7,'#a0a630'],[1,'#88a02a']],
 [[220,'#d0b828',1,2.2,0.7],[140,'#50a030',1,2.4,0.6],[80,'#c05020',0.8,1.8,0.5],[520,'#2232c8',3,4.2,0.95,0.04,0.92],[160,'#101850',1,2,0.4,0.04,0.92]]);
img(1004,1074,92,58,[[0,'#26a026'],[1,'#1e921e']],
 [[400,'#041404',0.7,1.8,0.65],[150,'#50d050',0.5,1.1,0.5]]);
img(1004,1134,92,58,[[0,'#c81a1a'],[1,'#c01818']],
 [[330,'#300202',0.7,1.6,0.55],[120,'#ff3535',0.5,1,0.4]]);
E(TOP,'rect',{x:949,y:1181,width:42,height:2.2,fill:'#fff'});
E(TOP,'rect',{x:1065,y:1181,width:23,height:2.2,fill:'#fff'});
})();
</script>
</body></html>
